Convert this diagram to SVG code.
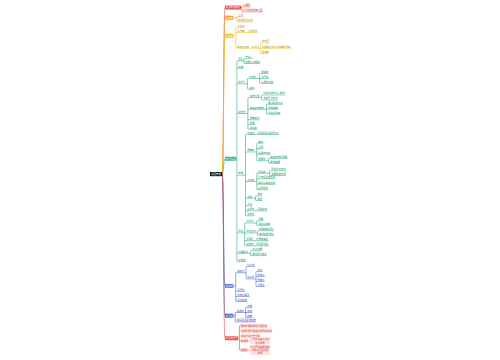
<svg xmlns="http://www.w3.org/2000/svg" width="500" height="360" viewBox="0 0 500 360">
<style>
.t{font-family:"Noto Sans CJK SC","Noto Sans",sans-serif;font-size:2.4px}
.m{text-anchor:middle}.w{fill:#fff}
.cR{fill:#d63b30}.cO{fill:#d27c0c}.cY{fill:#b58e00}.cG{fill:#16905e}.cB{fill:#3658cc}.cP{fill:#3444b5}
.l{fill:none;stroke-width:.6}.u{fill:none;stroke-width:.5}
.lR{stroke:#e8453c}.lO{stroke:#f39a1e}.lY{stroke:#f2c200}.lG{stroke:#22b07d}.lB{stroke:#4a6ee0}.lP{stroke:#4355c7}
.pk{fill:#fde2df}
</style>
<rect width="500" height="360" fill="#fff"/>
<g id="connectors">
<path class="l lR" d="M222.2 174.1C223.7 174.1 223.5 7.5 225 7.5"/>
<path class="l lO" d="M222.2 174.1C223.7 174.1 223.5 17.7 225 17.7"/>
<path class="l lY" d="M222.2 174.1C223.7 174.1 223.5 35.8 225 35.8"/>
<path class="l lG" d="M222.2 174.1C223.7 174.1 223.5 158.8 225 158.8"/>
<path class="l lB" d="M222.2 174.1C223.7 174.1 223.5 286 225 286"/>
<path class="l lP" d="M222.2 174.1C223.7 174.1 223.5 315.7 225 315.7"/>
<path class="l lR" d="M222.2 174.1C223.7 174.1 223.5 338.3 225 338.3"/>
<path class="l lR" d="M241 7.5H242M242 7.4V11.2M242 7.4Q242 6.8 242.6 6.8H243M242 11.2Q242 11.8 242.6 11.8H243"/>
<path class="l lO" d="M233.4 17.7H236.8M236.8 17.4V21.2M236.8 17.4Q236.8 16.8 237.4 16.8H238M236.8 21.2Q236.8 21.8 237.4 21.8H238"/>
<path class="l lY" d="M233.4 35.8H235.8M235.8 28.1V47.6M235.8 28.1Q235.8 27.5 236.4 27.5H237M235.8 33.1Q235.8 32.5 236.4 32.5H237M235.8 47.6Q235.8 48.2 236.4 48.2H237M244.8 32.5H247.5M249.6 48.2H251.5M259.3 48.2H261.5M260.4 43.6V52.8M260.4 43.6Q260.4 43 261 43H261.5M260.4 52.8Q260.4 53.4 261 53.4H261.5"/>
<path class="l lG" d="M235.8 158.8H236.9M236.9 61.6V260.9M236.9 61.6Q236.9 61 237.5 61H238M236.9 68.8Q236.9 68.2 237.5 68.2H238M236.9 84.4Q236.9 83.8 237.5 83.8H238M236.9 114.1Q236.9 113.5 237.5 113.5H238M236.9 174.5Q236.9 175.1 237.5 175.1H238M236.9 232.4Q236.9 233 237.5 233H238M236.9 252.6Q236.9 253.2 237.5 253.2H238M236.9 260.9Q236.9 261.5 237.5 261.5H238"/>
<path class="l lG" d="M243.4 61H244.2M244.2 59.1V62.9M244.2 59.1Q244.2 58.5 244.8 58.5H245M244.2 62.9Q244.2 63.5 244.8 63.5H245"/>
<path class="l lG" d="M245.8 83.8H247.4M247.4 79.1V88.6M247.4 79.1Q247.4 78.5 248 78.5H249M247.4 88.6Q247.4 89.2 248 89.2H249M256.8 78.5H261M259.6 74.1V82.9M259.6 74.1Q259.6 73.5 260.2 73.5H261M259.6 82.9Q259.6 83.5 260.2 83.5H261"/>
<path class="l lG" d="M245.8 113.5H247.9M247.9 98.1V128.6M247.9 98.1Q247.9 97.5 248.5 97.5H249.5M247.9 109.8Q247.9 109.2 248.5 109.2H249.5M247.9 119.2Q247.9 119.8 248.5 119.8H249.5M247.9 123.9Q247.9 124.5 248.5 124.5H249.5M247.9 128.6Q247.9 129.2 248.5 129.2H249.5"/>
<path class="l lG" d="M259.7 97.5H261.5M261.5 95.6V99.4M261.5 95.6Q261.5 95 262.1 95H263M261.5 99.4Q261.5 100 262.1 100H263M264.5 109.2H268M266.5 104.8V113.6M266.5 104.8Q266.5 104.2 267.1 104.2H268M266.5 113.6Q266.5 114.2 267.1 114.2H268"/>
<path class="l lG" d="M243.4 175.1H245.5M245.5 135.1V215.2M245.5 135.1Q245.5 134.5 246.1 134.5H247M245.5 152.6Q245.5 152 246.1 152H247M245.5 180.9Q245.5 181.5 246.1 181.5H247M245.5 197.6Q245.5 198.2 246.1 198.2H247M245.5 205.2Q245.5 205.8 246.1 205.8H247M245.5 210.2Q245.5 210.8 246.1 210.8H247M245.5 215.2Q245.5 215.8 246.1 215.8H247M254.8 134.5H256.5"/>
<path class="l lG" d="M254.8 152H256.8M256.8 143.8V160.2M256.8 143.8Q256.8 143.2 257.4 143.2H258M256.8 149.3Q256.8 148.7 257.4 148.7H258M256.8 153.6Q256.8 154.2 257.4 154.2H258M256.8 160.2Q256.8 160.8 257.4 160.8H258M265.8 160.8H268.5M268.5 158.9V162.7M268.5 158.9Q268.5 158.3 269.1 158.3H270M268.5 162.7Q268.5 163.3 269.1 163.3H270"/>
<path class="l lG" d="M254.8 181.5H256.8M256.8 173.8V189.2M256.8 173.8Q256.8 173.2 257.4 173.2H258M256.8 179.3Q256.8 178.7 257.4 178.7H258M256.8 183.6Q256.8 184.2 257.4 184.2H258M256.8 189.2Q256.8 189.8 257.4 189.8H258M265.8 173.2H269.5M269.5 171.4V175M269.5 171.4Q269.5 170.8 270.1 170.8H271M269.5 175Q269.5 175.6 270.1 175.6H271"/>
<path class="l lG" d="M252.4 198.2H255.5M255.5 196.5V199.9M255.5 196.5Q255.5 195.9 256.1 195.9H257M255.5 199.9Q255.5 200.5 256.1 200.5H257M254.8 210.8H257"/>
<path class="l lG" d="M243.4 233H246M244.7 223.6V245.2M244.7 223.6Q244.7 223 245.3 223H246M244.7 240.2Q244.7 240.8 245.3 240.8H246M244.7 245.2Q244.7 245.8 245.3 245.8H246M253.8 240.8H256M253.8 245.8H256"/>
<path class="l lG" d="M253.8 223H256.5M256.5 221.4V224.6M256.5 221.4Q256.5 220.8 257.1 220.8H258M256.5 224.6Q256.5 225.2 257.1 225.2H258M256.2 233H257.5M257.5 231.3V234.7M257.5 231.3Q257.5 230.7 258.1 230.7H258.8M257.5 234.7Q257.5 235.3 258.1 235.3H258.8"/>
<path class="l lG" d="M248.2 253.2H250.5M250.5 251.4V255M250.5 251.4Q250.5 250.8 251.1 250.8H252M250.5 255Q250.5 255.6 251.1 255.6H252"/>
<path class="l lB" d="M233.4 286H235.7M235.7 273.3V300.9M235.7 273.3Q235.7 272.7 236.3 272.7H237M235.7 290.9Q235.7 291.5 236.3 291.5H237M235.7 295.9Q235.7 296.5 236.3 296.5H237M235.7 300.9Q235.7 301.5 236.3 301.5H237"/>
<path class="l lB" d="M244.8 272.7H246M246 267.1V278.4M246 267.1Q246 266.5 246.6 266.5H247M246 278.4Q246 279 246.6 279H247M254.8 279H256M256 272.1V285.9M256 272.1Q256 271.5 256.6 271.5H257M256 277.1Q256 276.5 256.6 276.5H257M256 280.9Q256 281.5 256.6 281.5H257M256 285.9Q256 286.5 256.6 286.5H257"/>
<path class="l lP" d="M233.4 315.7H235.2M235.2 313.1V321.3M235.2 313.1Q235.2 312.5 235.8 312.5H236.5M235.2 321.3Q235.2 321.9 235.8 321.9H236.5M244.3 312.5H247M245.7 308V317M245.7 308Q245.7 307.4 246.3 307.4H247M245.7 317Q245.7 317.6 246.3 317.6H247"/>
<path class="l lR" d="M238.2 338.3H239.4M239.4 326.3V349.4M239.4 326.3Q239.4 325.7 240 325.7H240.5M239.4 331.3Q239.4 330.7 240 330.7H240.5M239.4 336.3Q239.4 335.7 240 335.7H240.5M239.4 340.4Q239.4 341 240 341H240.5M239.4 349.4Q239.4 350 240 350H240.5M248.3 341H250M248.3 350H250"/>
</g>
<g id="n-root"><rect x="210" y="172" width="12.2" height="4.2" fill="#111"/><text class="t m w" x="216.1" y="174.95">项目管理</text></g>
<g id="n-b1"><rect x="225" y="5.5" width="16" height="4" rx=".4" fill="#e8453c"/><text class="t m w" x="233" y="8.35">项目管理概述</text></g>
<g id="n-r1"><path class="u lR" d="M243 6.8H250.8"/><text class="t cR" x="243.3" y="6.15">三要素</text></g>
<g id="n-r2"><path class="u lR" d="M243 11.8H262.8"/><text class="t cR" x="243.3" y="11.15">时间成本质量范围</text></g>
<g id="n-b2"><rect x="225" y="15.7" width="8.4" height="4" rx=".4" fill="#f39a1e"/><text class="t m w" x="229.2" y="18.55">启动期</text></g>
<g id="n-o1"><path class="u lO" d="M238 16.8H243.4"/><text class="t cO" x="238.3" y="16.15">立项</text></g>
<g id="n-o2"><path class="u lO" d="M238 21.8H253"/><text class="t cO" x="238.3" y="21.15">制定项目章程</text></g>
<g id="n-b3"><rect x="225" y="33.8" width="8.4" height="4" rx=".4" fill="#f2c200"/><text class="t m w" x="229.2" y="36.65">规划期</text></g>
<g id="n-y1"><path class="u lY" d="M237 27.5H244.8"/><text class="t cY" x="237.3" y="26.85">计划书</text></g>
<g id="n-y2"><path class="u lY" d="M237 32.5H244.8"/><text class="t cY" x="237.3" y="31.85">工作量</text></g>
<g id="n-y2a"><path class="u lY" d="M247.5 32.5H257.7"/><text class="t cY" x="247.8" y="31.85">分解结构</text></g>
<g id="n-y3"><path class="u lY" d="M237 48.2H249.6"/><text class="t cY" x="237.3" y="47.55">制定进度表</text></g>
<g id="n-y3a"><path class="u lY" d="M251.5 48.2H259.3"/><text class="t cY" x="251.8" y="47.55">三方法</text></g>
<g id="n-y3a1"><path class="u lY" d="M261.5 43H269.3"/><text class="t cY" x="261.8" y="42.35">甘特图</text></g>
<g id="n-y3a2"><path class="u lY" d="M261.5 48.2H290.9"/><text class="t cY" x="261.8" y="47.55">关键路径法计划评审技术等</text></g>
<g id="n-y3a3"><path class="u lY" d="M261.5 53.4H269.3"/><text class="t cY" x="261.8" y="52.75">里程碑</text></g>
<g id="n-b4"><rect x="225" y="156.8" width="10.8" height="4" rx=".4" fill="#22b07d"/><text class="t m w" x="230.4" y="159.65">执行阶段</text></g>
<g id="n-g1"><path class="u lG" d="M238 61H243.4"/><text class="t cG" x="238.3" y="60.35">团队</text></g>
<g id="n-g1a"><path class="u lG" d="M245 58.5H252.8"/><text class="t cG" x="245.3" y="57.85">干系人</text></g>
<g id="n-g1b"><path class="u lG" d="M245 63.5H260"/><text class="t cG" x="245.3" y="62.85">职责分工明确</text></g>
<g id="n-g2"><path class="u lG" d="M238 68.2H243.4"/><text class="t cG" x="238.3" y="67.55">沟通</text></g>
<g id="n-g3"><path class="u lG" d="M238 83.8H245.8"/><text class="t cG" x="238.3" y="83.15">执行力</text></g>
<g id="n-g3a"><path class="u lG" d="M249 78.5H256.8"/><text class="t cG" x="249.3" y="77.85">协调会</text></g>
<g id="n-g3a1"><path class="u lG" d="M261 73.5H268.8"/><text class="t cG" x="261.3" y="72.85">周报表</text></g>
<g id="n-g3a2"><path class="u lG" d="M261 78.5H268.8"/><text class="t cG" x="261.3" y="77.85">问题单</text></g>
<g id="n-g3a3"><path class="u lG" d="M261 83.5H273.6"/><text class="t cG" x="261.3" y="82.85">每周例会制</text></g>
<g id="n-g3b"><path class="u lG" d="M249 89.2H254.4"/><text class="t cG" x="249.3" y="88.55">培训</text></g>
<g id="n-g4"><path class="u lG" d="M238 113.5H245.8"/><text class="t cG" x="238.3" y="112.85">资源池</text></g>
<g id="n-g4a"><path class="u lG" d="M249.5 97.5H259.7"/><text class="t cG" x="249.8" y="96.85">资源分配</text></g>
<g id="n-g4a1"><path class="u lG" d="M263 95H285.2"/><text class="t cG" x="263.3" y="94.35">识别关键干系人需求</text></g>
<g id="n-g4a2"><path class="u lG" d="M263 100H278"/><text class="t cG" x="263.3" y="99.35">定期召开例会</text></g>
<g id="n-g4b"><path class="u lG" d="M249.5 109.2H264.5"/><text class="t cG" x="249.8" y="108.55">收集绩效数据</text></g>
<g id="n-g4b1"><path class="u lG" d="M268 104.2H283"/><text class="t cG" x="268.3" y="103.55">更新项目计划</text></g>
<g id="n-g4b2"><path class="u lG" d="M268 109.2H278.2"/><text class="t cG" x="268.3" y="108.55">成本控制</text></g>
<g id="n-g4b3"><path class="u lG" d="M268 114.2H280.6"/><text class="t cG" x="268.3" y="113.55">风险识别表</text></g>
<g id="n-g4c"><path class="u lG" d="M249.5 119.8H259.7"/><text class="t cG" x="249.8" y="119.15">质量保证</text></g>
<g id="n-g4d"><path class="u lG" d="M249.5 124.5H254.9"/><text class="t cG" x="249.8" y="123.85">预算</text></g>
<g id="n-g4e"><path class="u lG" d="M249.5 129.2H257.3"/><text class="t cG" x="249.8" y="128.55">评估表</text></g>
<g id="n-g5"><path class="u lG" d="M238 175.1H243.4"/><text class="t cG" x="238.3" y="174.45">管理</text></g>
<g id="n-g5a"><path class="u lG" d="M247 134.5H254.8"/><text class="t cG" x="247.3" y="133.85">检查点</text></g>
<g id="n-g5a1"><path class="u lG" d="M256.5 134.5H278.7"/><text class="t cG" x="256.8" y="133.85">识别项目关键风险点</text></g>
<g id="n-g5b"><path class="u lG" d="M247 152H254.8"/><text class="t cG" x="247.3" y="151.35">质量表</text></g>
<g id="n-g5b1"><path class="u lG" d="M258 143.2H263.4"/><text class="t cG" x="258.3" y="142.55">审批</text></g>
<g id="n-g5b2"><path class="u lG" d="M258 148.7H263.4"/><text class="t cG" x="258.3" y="148.05">合同</text></g>
<g id="n-g5b3"><path class="u lG" d="M258 154.2H270.6"/><text class="t cG" x="258.3" y="153.55">采购与外包</text></g>
<g id="n-g5b4"><path class="u lG" d="M258 160.8H265.8"/><text class="t cG" x="258.3" y="160.15">变更单</text></g>
<g id="n-g5b4a"><path class="u lG" d="M270 158.3H287.4"/><text class="t cG" x="270.3" y="157.65">确定资源与预算</text></g>
<g id="n-g5b4b"><path class="u lG" d="M270 163.3H280.2"/><text class="t cG" x="270.3" y="162.65">需求变更</text></g>
<g id="n-g5c"><path class="u lG" d="M247 181.5H254.8"/><text class="t cG" x="247.3" y="180.85">进度表</text></g>
<g id="n-g5c1"><path class="u lG" d="M258 173.2H265.8"/><text class="t cG" x="258.3" y="172.55">风险表</text></g>
<g id="n-g5c1a"><path class="u lG" d="M271 170.8H286"/><text class="t cG" x="271.3" y="170.15">风险登记清单</text></g>
<g id="n-g5c1b"><path class="u lG" d="M271 175.6H286"/><text class="t cG" x="271.3" y="174.95">变更控制流程</text></g>
<g id="n-g5c2"><path class="u lG" d="M258 178.7H275.4"/><text class="t cG" x="258.3" y="178.05">召开项目启动会</text></g>
<g id="n-g5c3"><path class="u lG" d="M258 184.2H275.4"/><text class="t cG" x="258.3" y="183.55">编写每周进度表</text></g>
<g id="n-g5c4"><path class="u lG" d="M258 189.8H268.2"/><text class="t cG" x="258.3" y="189.15">绩效评估</text></g>
<g id="n-g5d"><path class="u lG" d="M247 198.2H252.4"/><text class="t cG" x="247.3" y="197.55">激励</text></g>
<g id="n-g5d1"><path class="u lG" d="M257 195.9H262.4"/><text class="t cG" x="257.3" y="195.25">考核</text></g>
<g id="n-g5d2"><path class="u lG" d="M257 200.5H262.4"/><text class="t cG" x="257.3" y="199.85">报告</text></g>
<g id="n-g5e"><path class="u lG" d="M247 205.8H252.4"/><text class="t cG" x="247.3" y="205.15">会议</text></g>
<g id="n-g5f"><path class="u lG" d="M247 210.8H254.8"/><text class="t cG" x="247.3" y="210.15">复盘会</text></g>
<g id="n-g5f1"><path class="u lG" d="M257 210.8H267.2"/><text class="t cG" x="257.3" y="210.15">经验总结</text></g>
<g id="n-g5g"><path class="u lG" d="M247 215.8H254.8"/><text class="t cG" x="247.3" y="215.15">验收单</text></g>
<g id="n-g6"><path class="u lG" d="M238 233H243.4"/><text class="t cG" x="238.3" y="232.35">风险</text></g>
<g id="n-g6a"><path class="u lG" d="M246 223H253.8"/><text class="t cG" x="246.3" y="222.35">识别法</text></g>
<g id="n-g6a1"><path class="u lG" d="M258 220.8H263.4"/><text class="t cG" x="258.3" y="220.15">评审</text></g>
<g id="n-g6a2"><path class="u lG" d="M258 225.2H270.6"/><text class="t cG" x="258.3" y="224.55">风险识别表</text></g>
<g id="n-g6b"><path class="u lG" d="M246 233H256.2"/><text class="t cG" x="246.3" y="232.35">风险应对</text></g>
<g id="n-g6b1"><path class="u lG" d="M258.8 230.7H273.8"/><text class="t cG" x="259.1" y="230.05">规避转移风险</text></g>
<g id="n-g6b2"><path class="u lG" d="M258.8 235.3H273.8"/><text class="t cG" x="259.1" y="234.65">减轻接受风险</text></g>
<g id="n-g6c"><path class="u lG" d="M246 240.8H253.8"/><text class="t cG" x="246.3" y="240.15">应急费</text></g>
<g id="n-g6c1"><path class="u lG" d="M256 240.8H268.6"/><text class="t cG" x="256.3" y="240.15">应急储备金</text></g>
<g id="n-g6d"><path class="u lG" d="M246 245.8H253.8"/><text class="t cG" x="246.3" y="245.15">监控表</text></g>
<g id="n-g6d1"><path class="u lG" d="M256 245.8H268.6"/><text class="t cG" x="256.3" y="245.15">风险再评估</text></g>
<g id="n-g7"><path class="u lG" d="M238 253.2H248.2"/><text class="t cG" x="238.3" y="252.55">沟通渠道</text></g>
<g id="n-g7a"><path class="u lG" d="M252 250.8H262.2"/><text class="t cG" x="252.3" y="250.15">会议纪要</text></g>
<g id="n-g7b"><path class="u lG" d="M252 255.6H267"/><text class="t cG" x="252.3" y="254.95">邮件即时通讯</text></g>
<g id="n-g8"><path class="u lG" d="M238 261.5H245.8"/><text class="t cG" x="238.3" y="260.85">文档库</text></g>
<g id="n-b5"><rect x="225" y="284" width="8.4" height="4" rx=".4" fill="#4a6ee0"/><text class="t m w" x="229.2" y="286.85">监控期</text></g>
<g id="n-bl1"><path class="u lB" d="M237 272.7H244.8"/><text class="t cB" x="237.3" y="272.05">偏差值</text></g>
<g id="n-bl1a"><path class="u lB" d="M247 266.5H254.8"/><text class="t cB" x="247.3" y="265.85">挣值法</text></g>
<g id="n-bl1b"><path class="u lB" d="M247 279H254.8"/><text class="t cB" x="247.3" y="278.35">指标项</text></g>
<g id="n-bl1b1"><path class="u lB" d="M257 271.5H262.4"/><text class="t cB" x="257.3" y="270.85">进度</text></g>
<g id="n-bl1b2"><path class="u lB" d="M257 276.5H264.8"/><text class="t cB" x="257.3" y="275.85">成本值</text></g>
<g id="n-bl1b3"><path class="u lB" d="M257 281.5H264.8"/><text class="t cB" x="257.3" y="280.85">质量值</text></g>
<g id="n-bl1b4"><path class="u lB" d="M257 286.5H264.8"/><text class="t cB" x="257.3" y="285.85">范围值</text></g>
<g id="n-bl2"><path class="u lB" d="M237 291.5H244.8"/><text class="t cB" x="237.3" y="290.85">问题单</text></g>
<g id="n-bl3"><path class="u lB" d="M237 296.5H249.6"/><text class="t cB" x="237.3" y="295.85">成本估算法</text></g>
<g id="n-bl4"><path class="u lB" d="M237 301.5H247.2"/><text class="t cB" x="237.3" y="300.85">进度监控</text></g>
<g id="n-b6"><rect x="225" y="313.7" width="8.4" height="4" rx=".4" fill="#4355c7"/><text class="t m w" x="229.2" y="316.55">收尾期</text></g>
<g id="n-p1"><path class="u lP" d="M236.5 312.5H244.3"/><text class="t cP" x="236.8" y="311.85">验收单</text></g>
<g id="n-p1a"><path class="u lP" d="M247 307.4H252.4"/><text class="t cP" x="247.3" y="306.75">归档</text></g>
<g id="n-p1b"><path class="u lP" d="M247 312.5H252.4"/><text class="t cP" x="247.3" y="311.85">总结</text></g>
<g id="n-p1c"><path class="u lP" d="M247 317.6H252.4"/><text class="t cP" x="247.3" y="316.95">解散</text></g>
<g id="n-p2"><path class="u lP" d="M236.5 321.9H256.3"/><text class="t cP" x="236.8" y="321.25">编写项目总结报告</text></g>
<g id="n-b7"><rect x="225" y="336.3" width="13.2" height="4" rx=".4" fill="#e8453c"/><text class="t m w" x="231.6" y="339.15">常见的问题</text></g>
<g id="n-q1"><rect class="pk" x="240.5" y="323.7" width="27" height="4" rx=".4"/><text class="t cR" x="240.8" y="326.55">需求不明确导致范围蔓延</text></g>
<g id="n-q2"><rect class="pk" x="240.5" y="328.7" width="31.8" height="4" rx=".4"/><text class="t cR" x="240.8" y="331.55">沟通不畅引起团队成员的误解</text></g>
<g id="n-q3"><rect class="pk" x="240.5" y="333.7" width="19.8" height="4" rx=".4"/><text class="t cR" x="240.8" y="336.55">进度计划过于乐观</text></g>
<g id="n-q4"><rect class="pk" x="240.5" y="339" width="7.8" height="4" rx=".4"/><text class="t cR" x="240.8" y="341.85">缺资源</text></g>
<g id="n-q4a"><rect class="pk" x="250" y="337.9" width="20.2" height="6.6" rx=".4"/><text class="t m cR" x="260.1" y="340.3">人员与设备不足时</text><text class="t m cR" x="260.1" y="343.6">及时调整</text></g>
<g id="n-q5"><rect class="pk" x="240.5" y="348" width="7.8" height="4" rx=".4"/><text class="t cR" x="240.8" y="350.85">变更多</text></g>
<g id="n-q5a"><rect class="pk" x="250" y="345" width="20.2" height="10" rx=".4"/><text class="t m cR" x="260.1" y="347.65">建立严格变更控制</text><text class="t m cR" x="260.1" y="350.85">流程并全面评估</text><text class="t m cR" x="260.1" y="354.05">影响</text></g>
</svg>
